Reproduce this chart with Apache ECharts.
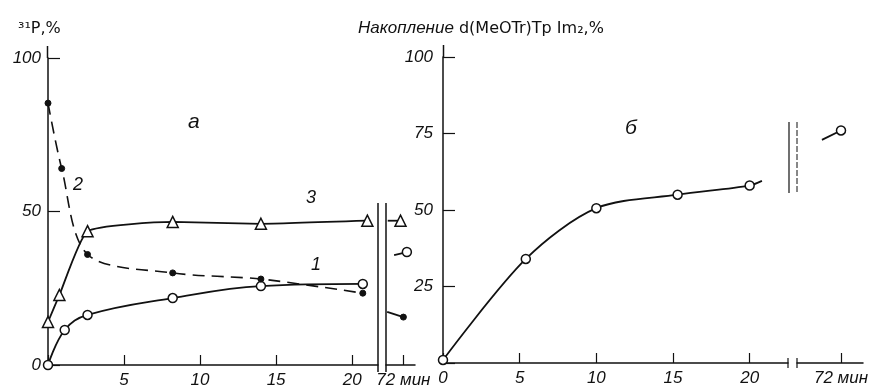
<!DOCTYPE html>
<html>
<head>
<meta charset="utf-8">
<script src="https://cdn.jsdelivr.net/npm/echarts@6/dist/echarts.min.js"></script>
<style>
html, body { margin: 0; padding: 0; background: #fff; }
#main { width: 875px; height: 389px; }
</style>
</head>
<body>
<div id="main"></div>
<script>
// panel a - time, min
var timeA1 = [0, 1.1, 2.6, 8.2, 14, 20.7];
var curve1 = [0, 11.4, 16.3, 21.8, 25.7, 26.4];
var timeA2 = [0, 0.9, 2.6, 8.2, 14, 20.7];
var curve2 = [85.3, 64, 36, 30, 28, 23.4];
var timeA3 = [0, 0.75, 2.6, 8.2, 14, 21];
var curve3 = [14, 22.8, 43.6, 46.6, 46, 47];
// after the break (72 min): stub start, point
var late1X = [70.4, 72.6], late1Y = [35.8, 36.8];
var late2X = [69.2, 72.0], late2Y = [17.3, 15.6];
var late3X = [69.3, 71.5], late3Y = [47, 47];

// panel б
var timeB = [0, 5.4, 10, 15.3, 20, 20.8];
var accumB = [1, 34, 50.6, 55, 58, 59.5];
var lateBX = [69.4, 72], lateBY = [72.9, 76];

var ticksA = [0, 50, 100];
var ticksB = [0, 25, 50, 75, 100];
var ticksX = [0, 5, 10, 15, 20];

function pairs(xs, ys) {
    return xs.map(function (x, i) { return [x, ys[i]]; });
}

var fnt = 'Liberation Sans';
var black = '#111';

function xMain(grid, max, showZero) {
    return {
        gridIndex: grid, type: 'value', min: 0, max: max, interval: 5,
        splitLine: {show: false},
        axisLine: {lineStyle: {color: black, width: 1.5}},
        axisTick: {inside: true, length: 10, lineStyle: {color: black, width: 1.2}},
        axisLabel: {
            color: black, fontFamily: fnt, fontStyle: 'italic', fontSize: 17, margin: 7,
            showMaxLabel: false,
            formatter: function (v) {
                if (ticksX.indexOf(v) < 0) return '';
                if (v === 0 && !showZero) return '';
                return String(v);
            }
        }
    };
}

function xLate(grid, min, max) {
    return {
        gridIndex: grid, type: 'value', min: min, max: max,
        splitLine: {show: false},
        axisLine: {lineStyle: {color: black, width: 1.5}},
        axisTick: {inside: true, length: 10, customValues: [72], lineStyle: {color: black, width: 1.2}},
        axisLabel: {
            color: black, fontFamily: fnt, fontStyle: 'italic', fontSize: 17, margin: 7,
            customValues: [72],
            formatter: function () { return '72 мин'; }
        }
    };
}

function yMain(grid, interval, ticks, showZero, margin) {
    return {
        gridIndex: grid, type: 'value', min: 0, max: 100, interval: interval,
        splitLine: {show: false},
        axisLine: {lineStyle: {color: black, width: 1.5}},
        axisTick: {inside: true, length: 12, lineStyle: {color: black, width: 1.2}},
        axisLabel: {
            color: black, fontFamily: fnt, fontStyle: 'italic', fontSize: 17, margin: margin,
            formatter: function (v) {
                if (ticks.indexOf(v) < 0) return '';
                if (v === 0 && !showZero) return '';
                return String(v);
            }
        }
    };
}

function yHidden(grid) {
    return {gridIndex: grid, type: 'value', min: 0, max: 100, show: false};
}

var lineBase = {color: black, width: 1.8};

function curve(data, xi, opts) {
    return Object.assign({
        type: 'line', xAxisIndex: xi, yAxisIndex: xi, data: data,
        smooth: 0.3,
        symbol: 'circle', symbolSize: 9,
        lineStyle: lineBase,
        itemStyle: {color: '#fff', borderColor: black, borderWidth: 1.5},
        z: 3
    }, opts);
}

function stub(data, xi, opts) {
    return Object.assign({
        type: 'line', xAxisIndex: xi, yAxisIndex: xi, data: data,
        symbol: 'circle',
        symbolSize: function (v, p) { return p.dataIndex === 0 ? 0 : 9; },
        lineStyle: lineBase,
        itemStyle: {color: '#fff', borderColor: black, borderWidth: 1.5},
        z: 3
    }, opts);
}

var filled = {color: black, borderColor: black, borderWidth: 1};
var dashed = {color: black, width: 1.6, type: [12, 7]};

var myChart = echarts.init(document.getElementById('main'));
var option = {
    animation: false,
    backgroundColor: '#fff',
    grid: [
        {left: 48, top: 58, width: 330, bottom: 24},
        {left: 386, top: 58, width: 29, bottom: 24},
        {left: 443, top: 57, width: 345, bottom: 26},
        {left: 797, top: 57, width: 66, bottom: 26}
    ],
    xAxis: [
        xMain(0, 21.7, false),
        xLate(1, 69, 74),
        xMain(2, 22.5, true),
        xLate(3, 66, 75)
    ],
    yAxis: [
        yMain(0, 50, ticksA, true, 7),
        yHidden(1),
        yMain(2, 25, ticksB, false, 10),
        yHidden(3)
    ],
    series: [
        curve(pairs(timeA1, curve1), 0, {smooth: 0.4}),
        curve(pairs(timeA2, curve2), 0, {symbolSize: 6, lineStyle: dashed, itemStyle: filled}),
        curve(pairs(timeA3, curve3), 0, {symbol: 'triangle', symbolSize: 11, smooth: 0.15}),
        stub(pairs(late1X, late1Y), 1, {}),
        stub(pairs(late2X, late2Y), 1, {
            symbolSize: function (v, p) { return p.dataIndex === 0 ? 0 : 6; },
            itemStyle: filled
        }),
        stub(pairs(late3X, late3Y), 1, {
            symbol: 'triangle',
            symbolSize: function (v, p) { return p.dataIndex === 0 ? 0 : 11; }
        }),
        curve(pairs(timeB, accumB), 2, {
            smooth: 0.3,
            symbolSize: function (v, p) { return p.dataIndex === timeB.length - 1 ? 0 : 9; }
        }),
        stub(pairs(lateBX, lateBY), 3, {})
    ],
    graphic: [
        // y axis runs a little above 100
        {type: 'line', shape: {x1: 47.5, y1: 46, x2: 47.5, y2: 58}, style: {stroke: black, lineWidth: 1.5}},
        {type: 'line', shape: {x1: 443.5, y1: 45, x2: 443.5, y2: 57}, style: {stroke: black, lineWidth: 1.5}},
        // axis breaks
        {type: 'line', shape: {x1: 378, y1: 203, x2: 378, y2: 372}, style: {stroke: black, lineWidth: 1.5}},
        {type: 'line', shape: {x1: 386, y1: 203, x2: 386, y2: 372}, style: {stroke: black, lineWidth: 1.5}},
        {type: 'line', shape: {x1: 789, y1: 122, x2: 789, y2: 193}, style: {stroke: black, lineWidth: 1.2}},
        {type: 'line', shape: {x1: 797, y1: 122, x2: 797, y2: 193}, style: {stroke: black, lineWidth: 1, lineDash: [6, 2]}},
        {type: 'line', shape: {x1: 788, y1: 358, x2: 788, y2: 368}, style: {stroke: black, lineWidth: 1.2}},
        {type: 'line', shape: {x1: 797, y1: 358, x2: 797, y2: 368}, style: {stroke: black, lineWidth: 1.2}},
        // axis titles
        {type: 'text', left: 18, top: 21, style: {
            text: '³¹P,%', fill: black, font: '16px "DejaVu Sans"'
        }},
        {type: 'text', left: 358, top: 20, style: {
            text: '{i|Накопление} d(MeOTr)Tp Im₂,%',
            fill: black, font: '16px "DejaVu Sans"',
            rich: {i: {fontFamily: fnt, fontStyle: 'italic', fontSize: 17}}
        }},
        // panel and curve labels
        {type: 'text', left: 188, top: 112, style: {text: 'a', fill: black, font: 'italic 21px "Liberation Sans"'}},
        {type: 'text', left: 625, top: 118, style: {text: 'б', fill: black, font: 'italic 21px "Liberation Sans"'}},
        {type: 'text', left: 73, top: 176, style: {text: '2', fill: black, font: 'italic 18px "Liberation Sans"'}},
        {type: 'text', left: 306, top: 189, style: {text: '3', fill: black, font: 'italic 18px "Liberation Sans"'}},
        {type: 'text', left: 311, top: 256, style: {text: '1', fill: black, font: 'italic 18px "Liberation Sans"'}}
    ]
};
myChart.setOption(option);
</script>
</body>
</html>
